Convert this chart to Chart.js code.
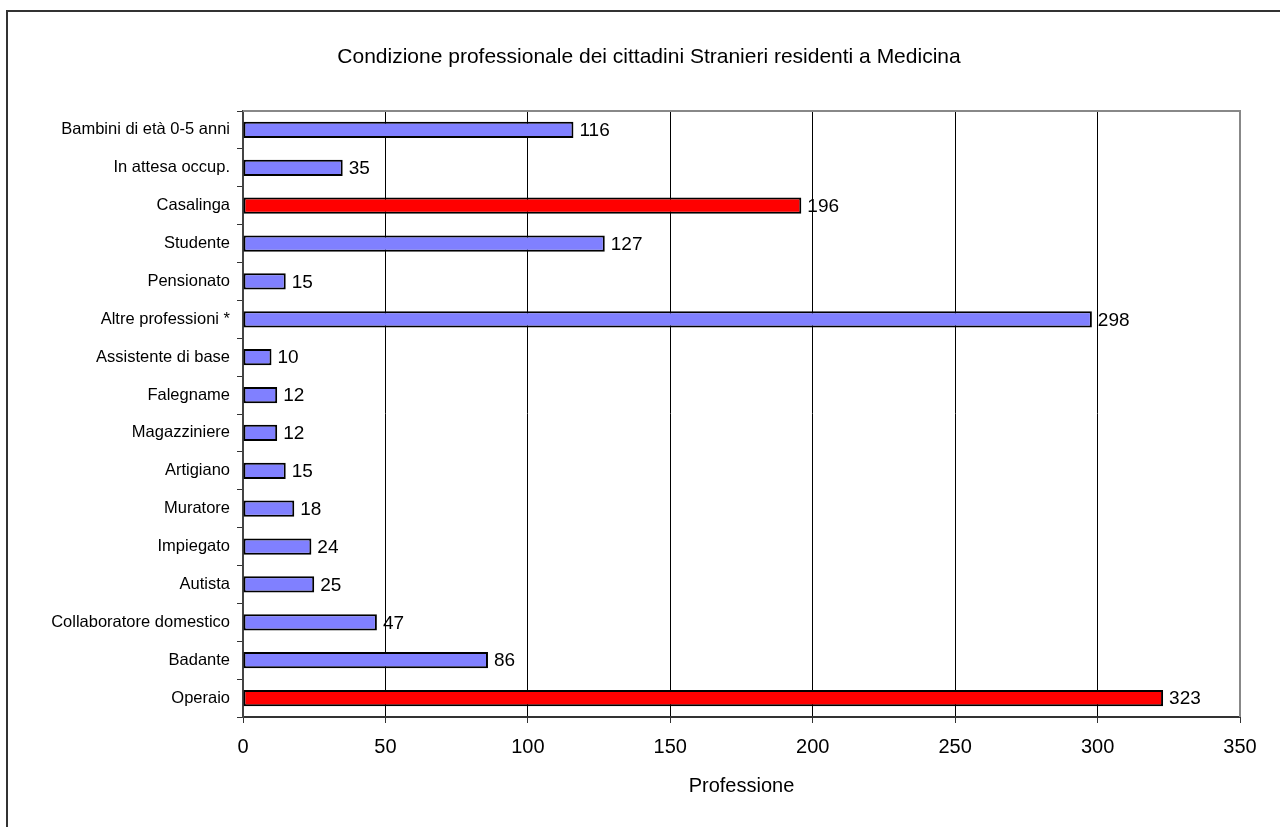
<!DOCTYPE html>
<html>
<head>
<meta charset="utf-8">
<title>Condizione professionale</title>
<script src="https://cdn.jsdelivr.net/npm/chart.js@4"></script>
<style>
  html, body { margin: 0; padding: 0; background: #fff; }
  canvas { display: block; }
</style>
</head>
<body>
<canvas id="myChart" width="1280" height="827"></canvas>
<script>
// Data
var categories = ['Bambini di età 0-5 anni', 'In attesa occup.', 'Casalinga', 'Studente', 'Pensionato',
  'Altre professioni *', 'Assistente di base', 'Falegname', 'Magazziniere', 'Artigiano', 'Muratore',
  'Impiegato', 'Autista', 'Collaboratore domestico', 'Badante', 'Operaio'];
var values = [116, 35, 196, 127, 15, 298, 10, 12, 12, 15, 18, 24, 25, 47, 86, 323];
var highlighted = ['Casalinga', 'Operaio'];
var xTicks = [0, 50, 100, 150, 200, 250, 300, 350];

var FONT = '"Liberation Sans", Arial, sans-serif';

var barColors = categories.map(function (c) {
  return highlighted.indexOf(c) >= 0 ? '#ff0000' : '#8080ff';
});

// frame, title and plot border
var framePlugin = {
  id: 'frame',
  beforeDraw: function (chart) {
    var ctx = chart.ctx;
    ctx.save();
    ctx.fillStyle = '#fff';
    ctx.fillRect(0, 0, chart.width, chart.height);
    ctx.strokeStyle = '#333';
    ctx.lineWidth = 2;
    ctx.strokeRect(7, 11, chart.width + 20, chart.height + 20);
    ctx.fillStyle = '#000';
    ctx.font = '21px ' + FONT;
    ctx.textAlign = 'center';
    ctx.textBaseline = 'middle';
    ctx.fillText('Condizione professionale dei cittadini Stranieri residenti a Medicina', 649, 57);
    ctx.restore();
  },
  afterDraw: function (chart) {
    var a = chart.chartArea;
    var ctx = chart.ctx;
    ctx.save();
    ctx.strokeStyle = '#888';
    ctx.lineWidth = 2;
    ctx.beginPath();
    ctx.moveTo(a.left, a.top);
    ctx.lineTo(a.right, a.top);
    ctx.lineTo(a.right, a.bottom);
    ctx.stroke();
    ctx.restore();
  }
};

// value labels right of each bar
var valueLabels = {
  id: 'valueLabels',
  afterDatasetsDraw: function (chart) {
    var ctx = chart.ctx;
    var meta = chart.getDatasetMeta(0);
    ctx.save();
    ctx.fillStyle = '#000';
    ctx.font = '19px ' + FONT;
    ctx.textAlign = 'left';
    ctx.textBaseline = 'middle';
    meta.data.forEach(function (bar, i) {
      ctx.fillText(String(values[i]), bar.x + 6, bar.y + 1);
    });
    ctx.restore();
  }
};

var ctx = document.getElementById('myChart').getContext('2d');
var myChart = new Chart(ctx, {
  type: 'bar',
  data: {
    labels: categories,
    datasets: [{
      data: values,
      backgroundColor: barColors,
      borderColor: '#000',
      borderWidth: 2,
      borderSkipped: false,
      barPercentage: 0.86,
      categoryPercentage: 0.5
    }]
  },
  options: {
    indexAxis: 'y',
    responsive: false,
    animation: false,
    layout: { padding: { left: 0, right: 40, top: 111, bottom: 29 } },
    plugins: {
      legend: { display: false },
      tooltip: { enabled: false }
    },
    scales: {
      x: {
        min: 0,
        max: 350,
        afterBuildTicks: function (scale) {
          scale.ticks = xTicks.map(function (v) { return { value: v }; });
        },
        afterFit: function (scale) { scale.height = 81; },
        grid: {
          color: function (c) { return c.tick && c.tick.value === 350 ? '#888' : '#000'; },
          lineWidth: 1,
          tickLength: 6,
          tickColor: '#333'
        },
        border: { color: '#333', width: 2 },
        ticks: {
          color: '#000',
          font: { family: FONT, size: 20 },
          padding: 12
        },
        title: {
          display: true,
          text: 'Professione',
          color: '#000',
          font: { family: FONT, size: 20 },
          padding: 0
        }
      },
      y: {
        afterFit: function (scale) { scale.width = 243; },
        grid: {
          drawOnChartArea: false,
          drawTicks: true,
          tickLength: 6,
          tickColor: '#333',
          offset: true
        },
        border: { color: '#444', width: 2 },
        ticks: {
          color: '#000',
          font: { family: FONT, size: 16.5 },
          padding: 7,
          autoSkip: false
        }
      }
    }
  },
  plugins: [framePlugin, valueLabels]
});
</script>
</body>
</html>
